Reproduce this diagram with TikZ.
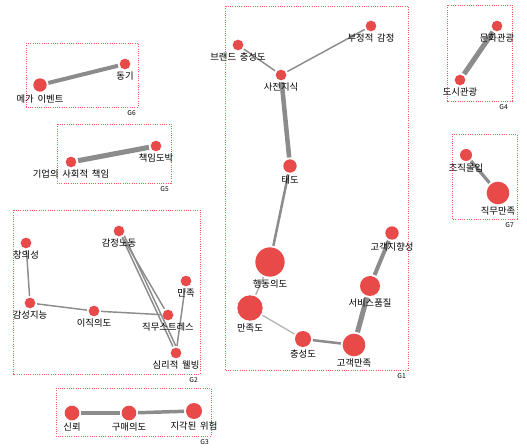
\documentclass[tikz,border=0pt]{standalone}
\usepackage{fontspec}
\setmainfont{Noto Sans CJK KR}[WordSpace=1.8]
\usetikzlibrary{positioning}
\usetikzlibrary{backgrounds}

\definecolor{dotred}{HTML}{E84A4A}
\definecolor{boxred}{HTML}{FF5A5A}
\definecolor{linkgray}{HTML}{8C8C8C}
\definecolor{lightgray}{HTML}{B4B4B4}

\tikzset{
  kw/.style={circle, fill=dotred, inner sep=0pt, minimum size=#1},
  kwtext/.style={font=\fontsize{7}{8}\selectfont, inner sep=0.75pt},
  grp/.style={draw=boxred, densely dotted, line width=0.7pt},
  grptext/.style={font=\fontsize{5}{6}\selectfont, inner sep=0.75pt, anchor=north east},
  link/.style={draw=linkgray, line width=#1, shorten >=1.2pt, shorten <=1.2pt},
  thinlink/.style={draw=lightgray, line width=#1, shorten >=1.2pt, shorten <=1.2pt},
}

\begin{document}
\begin{tikzpicture}[x=0.75pt,y=0.75pt,yscale=-1,xscale=1]
        \path[use as bounding box] (0,0) rectangle (527,448);

        %Shape: Rectangle  groups
        \draw[grp] (26,43) rectangle (138,107);
        \draw[grp] (57,124) rectangle (171,183);
        \draw[grp] (13,210) rectangle (200,374);
        \draw[grp] (56,388) rectangle (211,436);
        \draw[grp] (225,6) rectangle (408,370);
        \draw[grp] (447,5) rectangle (512,101);
        \draw[grp] (452,134) rectangle (517,219);

        % Text Node  group names
        \node[grptext] (g6) at (137,109) {G6};
        \node[grptext] (g5) at (170,185) {G5};
        \node[grptext] (g2) at (199,376) {G2};
        \node[grptext] (g3) at (210,438) {G3};
        \node[grptext] (g1) at (407,372) {G1};
        \node[grptext] (g4) at (509,103) {G4};
        \node[grptext] (g7) at (515,221) {G7};

        %Shape: Circle  G6
        \node[kw=10] (mega) at (40,85) {};
        \node[kw=8] (motive) at (125,64) {};
        %Shape: Circle  G5
        \node[kw=8] (csr) at (71,162) {};
        \node[kw=8] (gamble) at (156,146) {};
        %Shape: Circle  G2
        \node[kw=8] (creat) at (26,243) {};
        \node[kw=8] (emolab) at (119,231) {};
        \node[kw=8] (satis) at (186,281) {};
        \node[kw=8] (emoint) at (30,303) {};
        \node[kw=8] (turn) at (94,311) {};
        \node[kw=8] (stress) at (168,315) {};
        \node[kw=8] (well) at (176,353) {};
        %Shape: Circle  G3
        \node[kw=11] (trust) at (72,413) {};
        \node[kw=11] (buy) at (129,413) {};
        \node[kw=12] (risk) at (194,411) {};
        %Shape: Circle  G1
        \node[kw=8] (brand) at (238,45) {};
        \node[kw=8] (negemo) at (371,26) {};
        \node[kw=8] (know) at (281,75) {};
        \node[kw=10] (attit) at (290,166) {};
        \node[kw=22] (behav) at (270,262) {};
        \node[kw=10] (custor) at (392,233) {};
        \node[kw=15] (servq) at (370,286) {};
        \node[kw=19] (satdeg) at (250,308) {};
        \node[kw=12] (loyal) at (303,339) {};
        \node[kw=17] (custsat) at (354,345) {};
        %Shape: Circle  G4
        \node[kw=8] (culture) at (497,26) {};
        \node[kw=8] (urban) at (460,80) {};
        %Shape: Circle  G7
        \node[kw=9] (commit) at (466,155) {};
        \node[kw=17] (jobsat) at (498,193) {};

        %Straight Lines
        \begin{scope}[on background layer]
        \draw[link=3] (mega) -- (motive);
        \draw[link=3.8] (csr) -- (gamble);
        \draw[link=1.1] (creat) -- (emoint);
        \draw[link=1.1] (emoint) -- (turn);
        \draw[link=1.1] (turn) -- (stress);
        \draw[link=1.1] (emolab) -- (stress);
        \draw[link=1.1] (emolab) -- (well);
        \draw[link=1.1] (emolab.-35) -- (well.85);
        \draw[link=1.1] (satis) -- (well);
        \draw[link=3] (trust) -- (buy);
        \draw[link=2.6] (buy) -- (risk);
        \draw[link=1.1] (brand) -- (know);
        \draw[link=1.1] (negemo) -- (know);
        \draw[link=3.4] (know) -- (attit);
        \draw[link=1.9] (attit) -- (behav);
        \draw[thinlink=1.1] (behav) -- (satdeg);
        \draw[thinlink=1] (satdeg) -- (loyal);
        \draw[link=1.9] (loyal) -- (custsat);
        \draw[link=3.8] (custsat) -- (servq);
        \draw[link=3] (servq) -- (custor);
        \draw[link=3.8] (culture) -- (urban);
        \draw[link=2.4] (commit) -- (jobsat);
        \end{scope}

        % Text Node
        \node[kwtext, below=1pt of mega] (megatxt) {메가 이벤트};
        % Text Node
        \node[kwtext, below=1pt of motive] (motivetxt) {동기};
        % Text Node
        \node[kwtext, below=1pt of csr] (csrtxt) {기업의 사회적 책임};
        % Text Node
        \node[kwtext, below=1pt of gamble] (gambletxt) {책임도박};
        % Text Node
        \node[kwtext, below=1pt of creat] (creattxt) {창의성};
        % Text Node
        \node[kwtext, below=1pt of emolab] (emolabtxt) {감정노동};
        % Text Node
        \node[kwtext, below=1pt of satis] (satistxt) {만족};
        % Text Node
        \node[kwtext, below=1pt of emoint] (emointtxt) {감성지능};
        % Text Node
        \node[kwtext, below=1pt of turn] (turntxt) {이직의도};
        % Text Node
        \node[kwtext, below=1pt of stress] (stresstxt) {직무스트레스};
        % Text Node
        \node[kwtext, below=1pt of well] (welltxt) {심리적 웰빙};
        % Text Node
        \node[kwtext, below=1pt of trust] (trusttxt) {신뢰};
        % Text Node
        \node[kwtext, below=1pt of buy] (buytxt) {구매의도};
        % Text Node
        \node[kwtext, below=1pt of risk] (risktxt) {지각된 위험};
        % Text Node
        \node[kwtext, below=1pt of brand] (brandtxt) {브랜드 충성도};
        % Text Node
        \node[kwtext, below=1pt of negemo] (negemotxt) {부정적 감정};
        % Text Node
        \node[kwtext, below=1pt of know] (knowtxt) {사전지식};
        % Text Node
        \node[kwtext, below=1pt of attit] (attittxt) {태도};
        % Text Node
        \node[kwtext, below=1pt of behav] (behavtxt) {행동의도};
        % Text Node
        \node[kwtext, below=1pt of custor] (custortxt) {고객지향성};
        % Text Node
        \node[kwtext, below=1pt of servq] (servqtxt) {서비스품질};
        % Text Node
        \node[kwtext, below=1pt of satdeg] (satdegtxt) {만족도};
        % Text Node
        \node[kwtext, below=1pt of loyal] (loyaltxt) {충성도};
        % Text Node
        \node[kwtext, below=1pt of custsat] (custsattxt) {고객만족};
        % Text Node
        \node[kwtext, below=1pt of culture] (culturetxt) {문화관광};
        % Text Node
        \node[kwtext, below=1pt of urban] (urbantxt) {도시관광};
        % Text Node
        \node[kwtext, below=1pt of commit] (committxt) {조직몰입};
        % Text Node
        \node[kwtext, below=1pt of jobsat] (jobsattxt) {직무만족};
\end{tikzpicture}
\end{document}
